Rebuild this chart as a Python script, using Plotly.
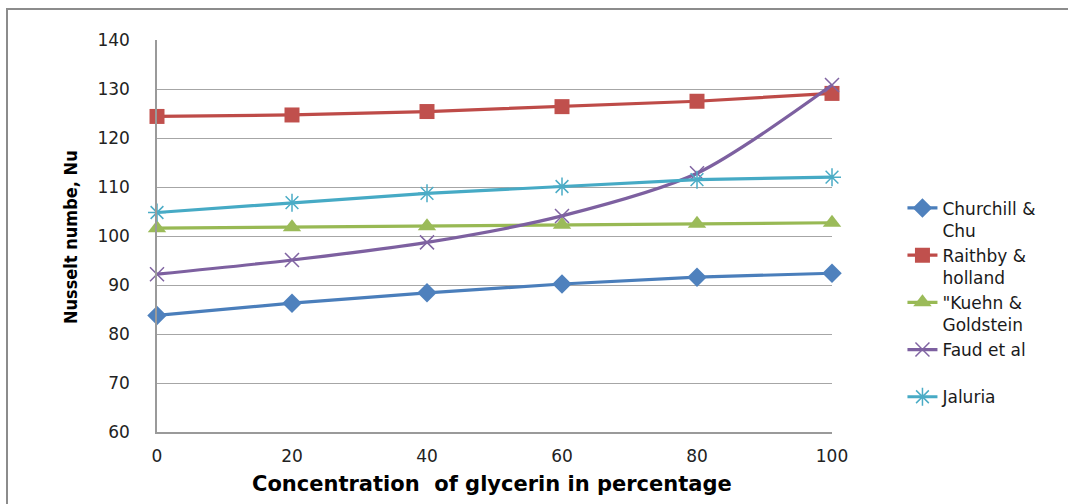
import plotly.graph_objects as go

# Glycerin concentration (%)
concentration = [0, 20, 40, 60, 80, 100]

# Nusselt number from each correlation
churchill_chu = [83.8, 86.3, 88.4, 90.2, 91.6, 92.4]
raithby_holland = [124.4, 124.7, 125.4, 126.4, 127.5, 129.1]
kuehn_goldstein = [101.6, 101.8, 102.0, 102.3, 102.5, 102.7]
faud_et_al = [92.2, 95.1, 98.7, 104.1, 112.8, 130.8]
jaluria = [104.8, 106.8, 108.7, 110.1, 111.5, 112.0]

series = [
    ("Churchill &<br>Chu", churchill_chu, "#4A7EBB", "#4F81BD", "diamond", 15, False),
    ("Raithby &<br>holland", raithby_holland, "#BE4B48", "#C0504D", "square", 15, False),
    ("\"Kuehn &<br>Goldstein", kuehn_goldstein, "#98B954", "#9BBB59", "triangle-up", 16, False),
    ("Faud et al<br> ", faud_et_al, "#7D60A0", "#8064A2", "x-thin-open", 14, True),
    ("Jaluria", jaluria, "#46AAC5", "#4BACC6", "asterisk-open", 15, False),
]

fig = go.Figure()
for name, vals, lcol, mcol, sym, size, smooth in series:
    open_sym = sym.endswith("open")
    fig.add_trace(go.Scatter(
        x=concentration, y=vals, name=name, mode="lines+markers",
        line=dict(color=lcol, width=3.2, shape="spline" if smooth else "linear", smoothing=0.8),
        marker=dict(symbol=sym, size=size, color=mcol,
                    line=dict(color=mcol, width=1.5 if open_sym else 0)),
        cliponaxis=False,
    ))

L, R, T, B = 157, 1068 - 832, 40, 504 - 432
W = 1068 - L - R
H = 504 - T - B

fig.update_layout(
    width=1068, height=504,
    margin=dict(l=L, r=R, t=T, b=B),
    paper_bgcolor="white", plot_bgcolor="white",
    showlegend=True,
    legend=dict(
        xref="container", yref="container",
        x=0.845, y=0.40, xanchor="left", yanchor="middle",
        font=dict(family="DejaVu Sans", size=17, color="#1a1a1a"),
        valign="top", tracegroupgap=0, bgcolor="rgba(0,0,0,0)",
    ),
    xaxis=dict(
        range=[0, 100], tickvals=concentration, showgrid=False,
        showline=True, linecolor="#9a9a9a", linewidth=1.5, zeroline=False,
        ticks="outside", ticklen=8, tickcolor="rgba(0,0,0,0)",
        tickfont=dict(family="DejaVu Sans", size=17, color="#222"),
    ),
    yaxis=dict(
        range=[60, 140], dtick=10, showgrid=True, gridcolor="#a6a6a6", gridwidth=1,
        showline=True, linecolor="#9a9a9a", linewidth=1.5, zeroline=False,
        ticks="outside", ticklen=22, tickcolor="rgba(0,0,0,0)",
        tickfont=dict(family="DejaVu Sans", size=17, color="#222"),
    ),
    annotations=[
        dict(text="<b>Nusselt numbe, Nu</b>", xref="paper", yref="paper",
             x=(70 - L) / W, y=(432 - 237) / H, textangle=-90, showarrow=False,
             xanchor="center", yanchor="middle",
             font=dict(family="DejaVu Sans Condensed", size=18, color="black")),
        dict(text="<b>Concentration  of glycerin in percentage</b>", xref="paper", yref="paper",
             x=(492 - L) / W, y=-(484 - 432) / H, showarrow=False,
             xanchor="center", yanchor="middle",
             font=dict(family="DejaVu Sans", size=21, color="black")),
    ],
    shapes=[
        # outer chart frame (top and left edges visible)
        dict(type="rect", xref="paper", yref="paper",
             x0=(7 - L) / W, x1=(1075 - L) / W, y0=-(520 - 432) / H, y1=(432 - 9) / H,
             line=dict(color="#8c8c8c", width=2), layer="below"),
    ],
)

fig.write_html("out.html")
